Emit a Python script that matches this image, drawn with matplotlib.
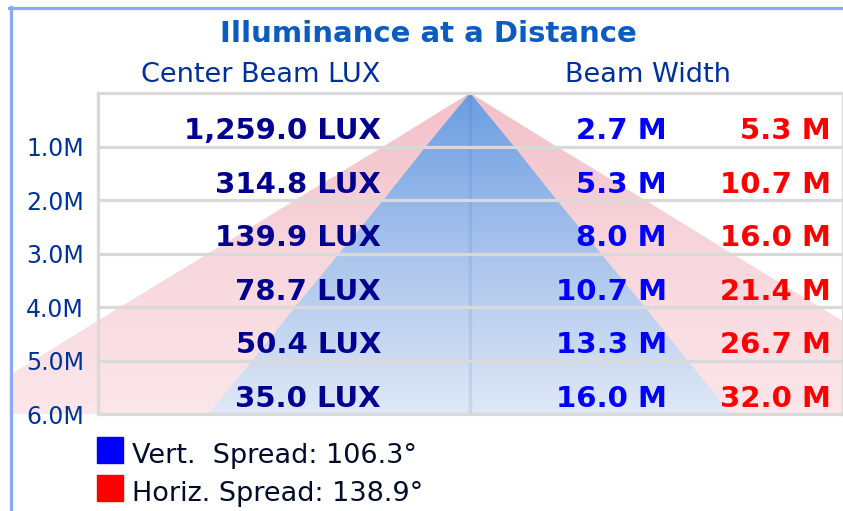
import matplotlib
matplotlib.use("Agg")
import matplotlib.pyplot as plt
import numpy as np
from matplotlib.colors import LinearSegmentedColormap
from matplotlib.patches import Polygon, Rectangle
from matplotlib.lines import Line2D

# data
distances = [1.0, 2.0, 3.0, 4.0, 5.0, 6.0]
center_lux = [1259.0, 314.8, 139.9, 78.7, 50.4, 35.0]
vert_width = [2.7, 5.3, 8.0, 10.7, 13.3, 16.0]
horiz_width = [5.3, 10.7, 16.0, 21.4, 26.7, 32.0]
vert_spread = 106.3
horiz_spread = 138.9

W, H = 843, 511
PX_PER_M = 32.7   # horizontal scale
CX = 470          # beam centre in pixels


def fy(py):
    return 1 - py / H


plt.rcParams['font.family'] = ['DejaVu Sans']
fig = plt.figure(figsize=(W / 100, H / 100), dpi=100)

# wide axes only for the beam fills (they run out to the frame on the left)
axf = fig.add_axes([10 / W, fy(414), (843 - 10) / W, (414 - 93) / H])
axf.set_xlim((10 - CX) / PX_PER_M, (843 - CX) / PX_PER_M)
axf.set_ylim(distances[-1], 0)
axf.axis('off')

# main table axes
ax = fig.add_axes([98 / W, fy(414), (843 - 98) / W, (414 - 93) / H])
ax.set_xlim((98 - CX) / PX_PER_M, (843 - CX) / PX_PER_M)
ax.set_ylim(distances[-1], 0)
ax.set_facecolor('none')
ax.set_zorder(2)


def beam(widths, colors):
    pts = [(0, 0)] + [(w / 2, d) for w, d in zip(widths, distances)]
    pts += [(-w / 2, d) for w, d in zip(widths[::-1], distances[::-1])]
    poly = Polygon(pts, closed=True, transform=axf.transData)
    cmap = LinearSegmentedColormap.from_list('g', colors)
    grad = np.linspace(0, 1, 256).reshape(-1, 1)
    x0, x1 = axf.get_xlim()
    im = axf.imshow(grad, extent=(x0, x1, distances[-1], 0), aspect='auto',
                    cmap=cmap, origin='upper', interpolation='bilinear')
    im.set_clip_path(poly)


beam(horiz_width, ['#f3c0c9', '#f7d6dc', '#fbe6ea'])
beam(vert_width, ['#6a9de2', '#a9c4ec', '#dfe8f6'])

# centre line and row separators
ax.axvline(0, color='#3a68b8', alpha=0.13, lw=2.5)
for d in distances:
    ax.axhline(d, color='#d9d9d9', lw=2.3)
for s in ax.spines.values():
    s.set_color('#d9d9d9')
    s.set_linewidth(2.3)

ax.set_xticks([])
ax.set_yticks(distances, labels=[f'{d:.1f}M' for d in distances])
ax.tick_params(axis='y', length=0, pad=10, labelsize=17, labelcolor='#003399')

lux_x = (381 - CX) / PX_PER_M
vert_x = (667 - CX) / PX_PER_M
horiz_x = (831 - CX) / PX_PER_M
for d, lux, vw, hw in zip(distances, center_lux, vert_width, horiz_width):
    y = d - 0.14
    ax.text(lux_x, y, f'{lux:,.1f} LUX', ha='right', va='baseline',
            fontsize=21, fontweight='bold', color='#000090')
    ax.text(vert_x, y, f'{vw:.1f} M', ha='right', va='baseline',
            fontsize=21, fontweight='bold', color='#0000ff')
    ax.text(horiz_x, y, f'{hw:.1f} M', ha='right', va='baseline',
            fontsize=21, fontweight='bold', color='#ff0000')

# headings
fig.text(428 / W, fy(42), 'Illuminance at a Distance', ha='center', va='baseline',
         fontsize=21, fontweight='bold', color='#0a5cc0')
fig.text(261 / W, fy(82), 'Center Beam LUX', ha='center', va='baseline',
         fontsize=19.5, color='#00309c')
fig.text(648 / W, fy(82), 'Beam Width', ha='center', va='baseline',
         fontsize=19.5, color='#00309c')

# legend
legend_items = [('#0000ff', f'Vert.  Spread: {vert_spread:.1f}°', 463),
                ('#ff0000', f'Horiz. Spread: {horiz_spread:.1f}°', 501)]
for col, label, base in legend_items:
    fig.add_artist(Rectangle((97 / W, fy(base)), 26 / W, 26 / H,
                             transform=fig.transFigure, color=col))
    fig.text(132 / W, fy(base), label, ha='left', va='baseline',
             fontsize=19.5, color='#000c2a')

# outer frame (left and top only)
fig.add_artist(Line2D([10.5 / W, 10.5 / W], [fy(7.5), 0], transform=fig.transFigure,
                      color='#8aa8f4', lw=2.3))
fig.add_artist(Line2D([9 / W, 1], [fy(8.5), fy(8.5)], transform=fig.transFigure,
                      color='#8aa8f4', lw=2.3))

fig.savefig('out.png', dpi=100)
